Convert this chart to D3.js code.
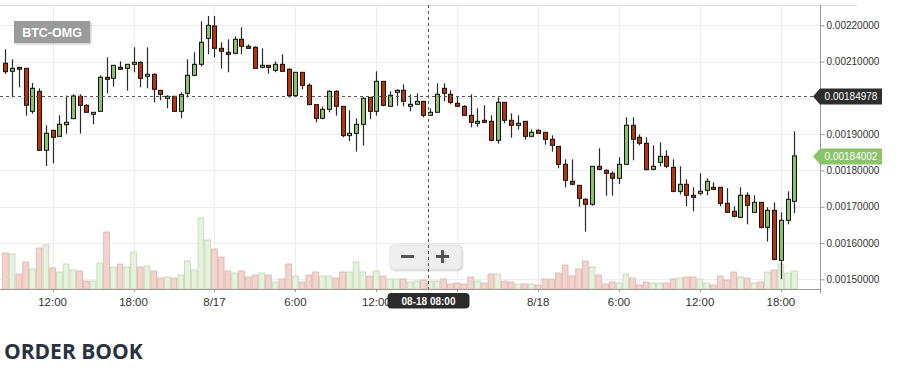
<!DOCTYPE html>
<html><head><meta charset="utf-8">
<script src="https://cdn.jsdelivr.net/npm/d3@7"></script>
<style>body{margin:0;background:#fff;} svg{display:block;}</style>
</head><body><svg id="c" width="911" height="379"></svg>
<script>
// ---------- data (prices in micro-BTC, i.e. x 1e-6 BTC) ----------
const pair = "BTC-OMG";
const startTime = Date.UTC(2017, 7, 16, 8, 30); // first 30-min candle
const intervalMin = 30;
const openP = [2095.2,2073.2,2084.2,2081.4,1962.9,2018.0,1855.5,1910.6,1894.0,1926.2,1942.7,2004.3,1979.5,1954.7,1962.9,2056.6,2053.9,2084.2,2081.4,2092.4,2098.0,2059.4,2064.9,2020.8,1998.8,2004.3,1962.9,2012.5,2062.1,2092.4,2164.1,2198.1,2136.5,2125.5,2122.8,2161.3,2142.0,2139.3,2084.2,2089.7,2075.9,2092.4,2078.7,2006.1,2070.4,2034.6,1981.3,1943.6,1968.4,2018.0,1976.7,1895.9,1902.3,1927.1,2001.5,1962.9,2045.6,1976.7,2015.3,2020.8,1976.7,1982.2,1990.5,1951.9,1960.2,2026.3,2009.8,1985.0,1976.7,1951.9,1929.9,1938.1,1935.4,1883.0,1987.7,1938.1,1924.4,1935.4,1894.0,1910.6,1905.1,1885.8,1866.5,1816.9,1770.0,1759.0,1720.4,1706.7,1811.4,1800.4,1792.1,1778.3,1816.9,1924.4,1891.3,1874.8,1803.1,1822.4,1838.9,1808.6,1742.5,1761.8,1731.5,1737.0,1745.2,1753.5,1753.5,1709.4,1687.4,1670.8,1731.5,1684.6,1712.2,1643.3,1690.1,1552.3,1662.6,1714.9];
const highP = [2133.8,2106.2,2084.2,2081.4,2041.0,2026.3,1924.4,1910.6,1951.9,2006.1,2009.8,2009.8,1982.2,1960.2,2062.1,2111.7,2089.7,2100.7,2092.4,2139.3,2100.7,2139.3,2067.6,2020.8,2007.0,2004.3,2015.3,2106.2,2125.5,2210.9,2225.6,2225.6,2153.1,2161.3,2169.6,2194.4,2147.5,2142.0,2136.5,2089.7,2100.7,2120.0,2081.4,2070.4,2070.4,2040.1,1981.3,1975.8,2020.8,2020.8,1976.7,1965.7,1943.6,2001.5,2001.5,2073.2,2045.6,2018.0,2023.6,2037.3,2008.9,2012.5,1990.5,1971.2,2040.1,2040.1,2020.8,2004.3,1979.5,2009.8,1971.2,1979.5,1951.9,2001.5,1987.7,1957.4,1951.9,1935.4,1913.3,1913.3,1905.1,1896.8,1866.5,1830.7,1830.7,1759.0,1723.2,1811.4,1861.0,1803.1,1797.6,1836.2,1946.4,1946.4,1899.6,1891.3,1869.2,1877.5,1855.5,1830.7,1811.4,1775.6,1753.5,1792.1,1778.3,1767.3,1753.5,1750.8,1701.2,1753.5,1739.7,1731.5,1712.2,1698.4,1712.2,1684.6,1742.5,1907.8];
const lowP = [2065.8,2001.5,2029.1,1951.0,1956.5,1853.5,1812.3,1819.6,1894.0,1901.4,1942.7,1901.4,1960.2,1927.1,1962.9,2012.5,2030.9,2076.8,2019.9,2070.4,2029.1,2026.3,1987.7,1993.2,1971.2,1962.9,1943.6,2001.5,2059.4,2086.9,2120.0,2111.7,2080.5,2070.4,2120.0,2120.0,2136.5,2081.4,2081.4,2066.7,2070.4,2073.2,2000.6,2003.3,2023.6,1981.3,1932.6,1940.9,1960.2,1951.0,1891.3,1880.3,1851.8,1868.3,1940.9,1951.0,1976.7,1976.7,1978.5,1976.7,1962.9,1982.2,1946.4,1951.9,1960.2,1990.5,1982.2,1976.7,1951.9,1918.8,1920.7,1932.6,1880.3,1873.8,1929.9,1890.4,1913.3,1884.9,1891.3,1902.3,1871.1,1851.8,1805.9,1753.5,1759.0,1700.2,1631.3,1703.0,1800.4,1730.5,1730.5,1762.7,1816.9,1827.9,1869.2,1800.4,1800.4,1811.4,1805.9,1739.7,1734.2,1701.2,1687.4,1731.5,1731.5,1748.0,1701.2,1684.6,1670.8,1670.8,1651.6,1684.6,1640.5,1603.8,1552.3,1500.0,1651.6,1681.9];
const closeP = [2072.2,2081.4,2078.7,1979.5,2026.3,1855.5,1902.3,1891.3,1927.1,1932.6,2005.2,1979.5,1960.2,1960.2,2056.6,2051.1,2089.7,2078.7,2092.4,2098.0,2053.9,2064.9,2023.6,2009.8,2004.3,1962.9,2008.9,2062.1,2092.4,2153.1,2199.9,2136.5,2128.3,2120.0,2161.3,2142.0,2136.5,2081.4,2089.7,2084.2,2092.4,2073.2,2006.1,2070.4,2034.6,1981.3,1943.6,1968.4,2018.0,1976.7,1895.9,1902.3,1927.1,1998.8,1962.9,2045.6,1979.5,2007.0,2020.8,1990.5,1982.2,1990.5,1951.9,1960.2,2009.8,2012.5,1987.7,1976.7,1951.9,1932.6,1935.4,1932.6,1883.0,1987.7,1938.1,1924.4,1929.9,1894.0,1905.1,1902.3,1885.8,1869.2,1816.9,1772.8,1761.8,1723.2,1706.7,1811.4,1803.1,1792.1,1778.3,1816.9,1924.4,1885.8,1874.8,1802.2,1811.4,1838.9,1811.4,1742.5,1761.8,1731.5,1726.0,1742.5,1770.0,1748.0,1709.4,1684.6,1673.6,1731.5,1703.9,1712.2,1643.3,1690.1,1555.1,1662.6,1720.4,1840.02];
const volumes = [36,35,15,27,20,41,44,21,17,25,19,18,8,8,26,57,22,25,22,37,22,23,18,11,12,11,14,28,19,71,49,40,32,18,16,18,12,14,16,14,7,10,25,13,7,14,17,13,13,11,17,17,27,17,13,18,13,10,10,10,7,8,9,8,8,10,5,6,5,12,8,6,15,15,8,7,5,5,5,4,10,10,16,24,13,20,28,22,14,5,7,6,15,11,4,7,6,6,6,10,11,12,12,10,6,4,13,9,17,12,11,6,7,17,19,25,16,18];
const yTickValues = [1500,1600,1700,1800,1900,2000,2100,2200];
const xTickDates = ["2017-08-16T12:00Z","2017-08-16T18:00Z","2017-08-17T00:00Z","2017-08-17T06:00Z","2017-08-17T12:00Z","2017-08-17T18:00Z","2017-08-18T00:00Z","2017-08-18T06:00Z","2017-08-18T12:00Z","2017-08-18T18:00Z"];
const xTickLabels = ["12:00","18:00","8/17","6:00","12:00","18:00","8/18","6:00","12:00","18:00"];
const lastPrice = 1840.02;
const crossPrice = 2006.0, crossPriceLabel = "0.00184978";
const crossTime = "2017-08-17T15:50Z", crossTimeLabel = "08-18 08:00";

// ---------- build ----------
const U = 1e-6;
const candles = openP.map((o,i)=>({
  t: new Date(startTime + i*intervalMin*60000),
  o:o*U, h:highP[i]*U, l:lowP[i]*U, c:closeP[i]*U, v:volumes[i]
}));

const svg = d3.select("#c");
const plotL = 0, plotR = 820, plotT = 5, plotB = 289;
const x = d3.scaleUtc()
  .domain([new Date(Date.UTC(2017,7,16,8,6)), new Date(Date.UTC(2017,7,18,20,54))])
  .range([plotL, plotR]);
const y = d3.scaleLinear().domain([0.0014733, 0.0022559]).range([plotB, plotT]);
const yv = d3.scaleLinear().domain([0, 100]).range([plotB, plotB - 100]);
const step = x(new Date(startTime + intervalMin*60000)) - x(new Date(startTime));

const RED = "#bb3300", GREEN = "#8dc26c";
const xTicks = xTickDates.map(d => new Date(d));

// crosshair positions (used to hide the tick labels the tags cover, as in the reference)
const cx = Math.round(x(new Date(crossTime)))+0.5;
const cy = Math.round(y(crossPrice*U))+0.5;

svg.append("defs").append("clipPath").attr("id","clip")
  .append("rect").attr("x",plotL).attr("y",plotT).attr("width",plotR-plotL).attr("height",plotB-plotT);
const sh = svg.select("defs").append("filter").attr("id","sh").attr("x","-10%").attr("y","-10%").attr("width","130%").attr("height","140%");
sh.append("feDropShadow").attr("dx",1).attr("dy",1).attr("stdDeviation",1).attr("flood-color","#000").attr("flood-opacity",0.25);

// grid
const grid = svg.append("g");
grid.selectAll("line.h").data(yTickValues).join("line")
  .attr("x1",plotL).attr("x2",plotR)
  .attr("y1",d=>Math.round(y(d*U))+0.5).attr("y2",d=>Math.round(y(d*U))+0.5)
  .attr("stroke","#ececec");
grid.selectAll("line.v").data(xTicks).join("line")
  .attr("x1",d=>Math.round(x(d))+0.5).attr("x2",d=>Math.round(x(d))+0.5)
  .attr("y1",plotT).attr("y2",plotB)
  .attr("stroke","#ececec");
svg.append("line").attr("x1",0).attr("x2",857).attr("y1",5.5).attr("y2",5.5).attr("stroke","#dddddd");

const plot = svg.append("g").attr("clip-path","url(#clip)");
// volume
plot.selectAll("rect.vol").data(candles).join("rect")
  .attr("x",d=>x(d.t)-step/2+0.5)
  .attr("width",step-1)
  .attr("y",d=>yv(d.v))
  .attr("height",d=>plotB-yv(d.v))
  .attr("fill",d=>d.c>=d.o?"#e6f2de":"#f2d3cd")
  .attr("stroke",d=>d.c>=d.o?"#c0d6b2":"#dcb3ab")
  .attr("stroke-width",0.8);

// candles
const cg = plot.selectAll("g.c").data(candles).join("g");
cg.append("line")
  .attr("x1",d=>Math.round(x(d.t))+0.5).attr("x2",d=>Math.round(x(d.t))+0.5)
  .attr("y1",d=>y(d.h)).attr("y2",d=>y(d.l))
  .attr("stroke","#2a2a2a").attr("stroke-width",1.2);
cg.append("rect")
  .attr("x",d=>Math.round(x(d.t))-1.5).attr("width",4)
  .attr("y",d=>y(Math.max(d.o,d.c)))
  .attr("height",d=>Math.max(1.5, Math.abs(y(d.o)-y(d.c))))
  .attr("fill",d=>d.c>=d.o?GREEN:RED)
  .attr("stroke","#111").attr("stroke-width",1);

// axes
const axisColor = "#9a9a9a";
svg.append("line").attr("x1",0).attr("x2",plotR).attr("y1",plotB+0.5).attr("y2",plotB+0.5).attr("stroke",axisColor);
svg.append("line").attr("x1",plotR+0.5).attr("x2",plotR+0.5).attr("y1",plotT).attr("y2",plotB+4).attr("stroke",axisColor);
const yAxis = d3.axisRight(y).tickValues(yTickValues.map(v=>v*U)).tickFormat(d3.format(".8f")).tickSize(4).tickPadding(2);
const ya = svg.append("g").attr("transform",`translate(${plotR+0.5},0)`).call(yAxis);
ya.select(".domain").remove();
ya.selectAll("line").attr("stroke",axisColor);
ya.selectAll("text").attr("font-family","Arial, 'Liberation Sans', sans-serif").attr("font-size",10).attr("fill","#333")
  .style("display", d => Math.abs(y(d) - cy) < 10 ? "none" : null);   // covered by the crosshair tag
const xa = svg.append("g");
xa.selectAll("line").data(xTicks).join("line")
  .attr("x1",d=>Math.round(x(d))+0.5).attr("x2",d=>Math.round(x(d))+0.5)
  .attr("y1",plotB).attr("y2",plotB+3).attr("stroke",axisColor);
xa.selectAll("text").data(xTicks).join("text")
  .attr("x",d=>x(d)).attr("y",306).attr("text-anchor","middle")
  .attr("font-family","Arial, 'Liberation Sans', sans-serif").attr("font-size",11.5).attr("fill","#333")
  .style("display", d => Math.abs(x(d) - cx) < 36 ? "none" : null)     // covered by the crosshair tag
  .text((d,i)=>xTickLabels[i]);

// pair label
svg.append("rect").attr("x",14).attr("y",21).attr("width",76).attr("height",22).attr("fill","#9b9b9b").attr("filter","url(#sh)");
svg.append("text").attr("x",52).attr("y",36.5).attr("text-anchor","middle")
  .attr("font-family","Arial, 'Liberation Sans', sans-serif").attr("font-size",12.5).attr("font-weight","bold").attr("fill","#fff").text(pair);

// zoom buttons
svg.append("rect").attr("x",390).attr("y",245).attr("width",71).attr("height",24).attr("rx",4)
  .attr("fill","#efefef").attr("stroke","#e4e4e4").attr("filter","url(#sh)");
svg.append("rect").attr("x",401).attr("y",255).attr("width",13).attr("height",3).attr("fill","#555");
svg.append("rect").attr("x",436).attr("y",255).attr("width",13).attr("height",3).attr("fill","#555");
svg.append("rect").attr("x",441).attr("y",250).attr("width",3).attr("height",13).attr("fill","#555");

// crosshair
svg.append("line").attr("x1",0).attr("x2",plotR).attr("y1",cy).attr("y2",cy)
  .attr("stroke","#555").attr("stroke-dasharray","3,3");
svg.append("line").attr("x1",cx).attr("x2",cx).attr("y1",plotT).attr("y2",plotB)
  .attr("stroke","#555").attr("stroke-dasharray","3,3");

function priceTag(yc, fill, label){
  const g = svg.append("g");
  g.append("path").attr("d",`M813,${yc} L820,${yc-8} L882,${yc-8} L882,${yc+8} L820,${yc+8} Z`).attr("fill",fill);
  g.append("text").attr("x",851).attr("y",yc+3.5).attr("text-anchor","middle")
    .attr("font-family","Arial, 'Liberation Sans', sans-serif").attr("font-size",10).attr("fill","#fff").text(label);
}
priceTag(cy, "#2e2e2e", crossPriceLabel);
priceTag(Math.round(y(lastPrice*U))+0.5, "#8cc46a", d3.format(".8f")(lastPrice*U));

svg.append("rect").attr("x",cx-41).attr("y",293).attr("width",82).attr("height",15.5).attr("rx",4).attr("fill","#2b2b2b");
svg.append("text").attr("x",cx).attr("y",304.5).attr("text-anchor","middle")
  .attr("font-family","Arial, 'Liberation Sans', sans-serif").attr("font-size",10).attr("font-weight","bold").attr("fill","#fff").text(crossTimeLabel);

// heading
svg.append("text").attr("x",4).attr("y",359).attr("font-family","'Open Sans', sans-serif")
  .attr("font-size",21).attr("font-weight","bold").attr("fill","#2a3140").text("ORDER BOOK");
</script></body></html>
